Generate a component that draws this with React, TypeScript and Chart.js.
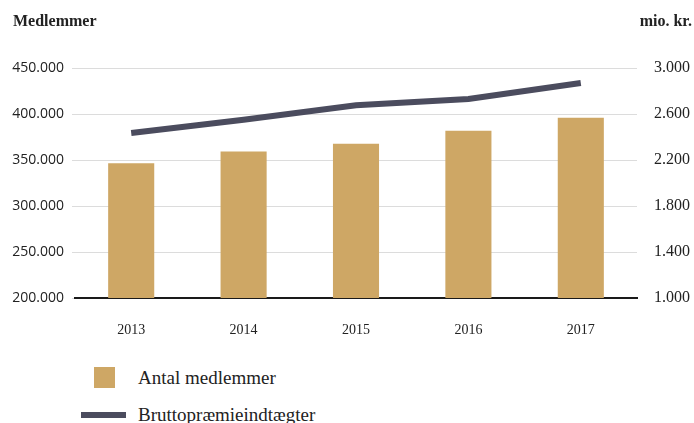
import React, { useEffect, useRef } from "react";
import { Chart, registerables } from "chart.js";

Chart.register(...registerables);

const years = ["2013", "2014", "2015", "2016", "2017"];
const members = [346600, 359200, 367600, 381800, 395900];
const premiums = [2434, 2550, 2676, 2730, 2869];
const leftTitle = "Medlemmer";
const rightTitle = "mio. kr.";
const barLabel = "Antal medlemmer";
const lineLabel = "Bruttopræmieindtægter";

const BAR_COLOR = "#cea765";
const LINE_COLOR = "#4b4c5e";
const TEXT = "#222222";

function fmt(v: number): string {
  const s = Math.round(v).toString();
  return s.replace(/\B(?=(\d{3})+(?!\d))/g, ".");
}

export default function App() {
  const ref = useRef<HTMLCanvasElement | null>(null);

  useEffect(() => {
    if (!ref.current) return;
    const chart = new Chart(ref.current, {
      type: "bar",
      data: {
        labels: years,
        datasets: [
          {
            type: "line",
            label: lineLabel,
            data: premiums,
            yAxisID: "y1",
            borderColor: LINE_COLOR,
            backgroundColor: LINE_COLOR,
            borderWidth: 6,
            pointRadius: 0,
            tension: 0,
            order: 0,
          } as any,
          {
            type: "bar",
            label: barLabel,
            data: members,
            yAxisID: "y",
            backgroundColor: BAR_COLOR,
            borderWidth: 0,
            categoryPercentage: 1,
            barPercentage: 0.41,
            order: 1,
          } as any,
        ],
      },
      options: {
        responsive: false,
        animation: false,
        layout: { padding: { top: 68, left: 0, right: 0, bottom: 0 } },
        plugins: {
          legend: { display: false },
          tooltip: { enabled: false },
        },
        scales: {
          x: {
            offset: true,
            grid: { display: false },
            border: { display: true, color: "#1a1a1a", width: 2 },
            ticks: {
              color: TEXT,
              padding: 16,
              font: { family: "'Liberation Serif', serif", size: 14 },
            },
            afterFit: (s: any) => {
              s.height = 47;
            },
          },
          y: {
            position: "left",
            min: 200000,
            max: 450000,
            grid: {
              color: "#dcdcdc",
              lineWidth: 1,
              drawTicks: true,
              tickLength: 3,
            },
            border: { display: false },
            ticks: {
              stepSize: 50000,
              color: TEXT,
              padding: 8,
              font: { family: "'Open Sans', sans-serif", size: 14 },
              callback: (v: any) => fmt(Number(v)),
            },
            afterFit: (s: any) => {
              s.width = 75;
            },
          },
          y1: {
            position: "right",
            min: 1000,
            max: 3000,
            grid: { display: false, drawOnChartArea: false },
            border: { display: false },
            ticks: {
              stepSize: 400,
              color: TEXT,
              padding: 9,
              font: { family: "'Liberation Serif', serif", size: 16 },
              callback: (v: any) => fmt(Number(v)),
            },
            afterFit: (s: any) => {
              s.width = 57;
            },
          },
        },
      } as any,
    });
    return () => chart.destroy();
  }, []);

  const serif = "'Liberation Serif', serif";

  return (
    <div
      style={{
        position: "fixed",
        left: 0,
        top: 0,
        width: 694,
        height: 423,
        background: "#ffffff",
        overflow: "hidden",
        color: TEXT,
        fontFamily: serif,
      }}
    >
      <canvas
        ref={ref}
        width={694}
        height={345}
        style={{ position: "absolute", left: 0, top: 0, width: 694, height: 345 }}
      />
      <div
        style={{
          position: "absolute",
          left: 13,
          top: 13,
          fontSize: 16,
          lineHeight: "16px",
          fontWeight: "bold",
          whiteSpace: "nowrap",
        }}
      >
        {leftTitle}
      </div>
      <div
        style={{
          position: "absolute",
          right: 2,
          top: 13,
          fontSize: 16,
          lineHeight: "16px",
          fontWeight: "bold",
          whiteSpace: "nowrap",
        }}
      >
        {rightTitle}
      </div>
      <div
        style={{
          position: "absolute",
          left: 94,
          top: 367,
          width: 21,
          height: 21,
          background: BAR_COLOR,
        }}
      />
      <div
        style={{
          position: "absolute",
          left: 138,
          top: 368,
          fontSize: 19,
          lineHeight: "19px",
          whiteSpace: "nowrap",
        }}
      >
        {barLabel}
      </div>
      <div
        style={{
          position: "absolute",
          left: 81,
          top: 412,
          width: 45,
          height: 6,
          background: LINE_COLOR,
        }}
      />
      <div
        style={{
          position: "absolute",
          left: 138,
          top: 405,
          fontSize: 19,
          lineHeight: "19px",
          whiteSpace: "nowrap",
        }}
      >
        {lineLabel}
      </div>
    </div>
  );
}
